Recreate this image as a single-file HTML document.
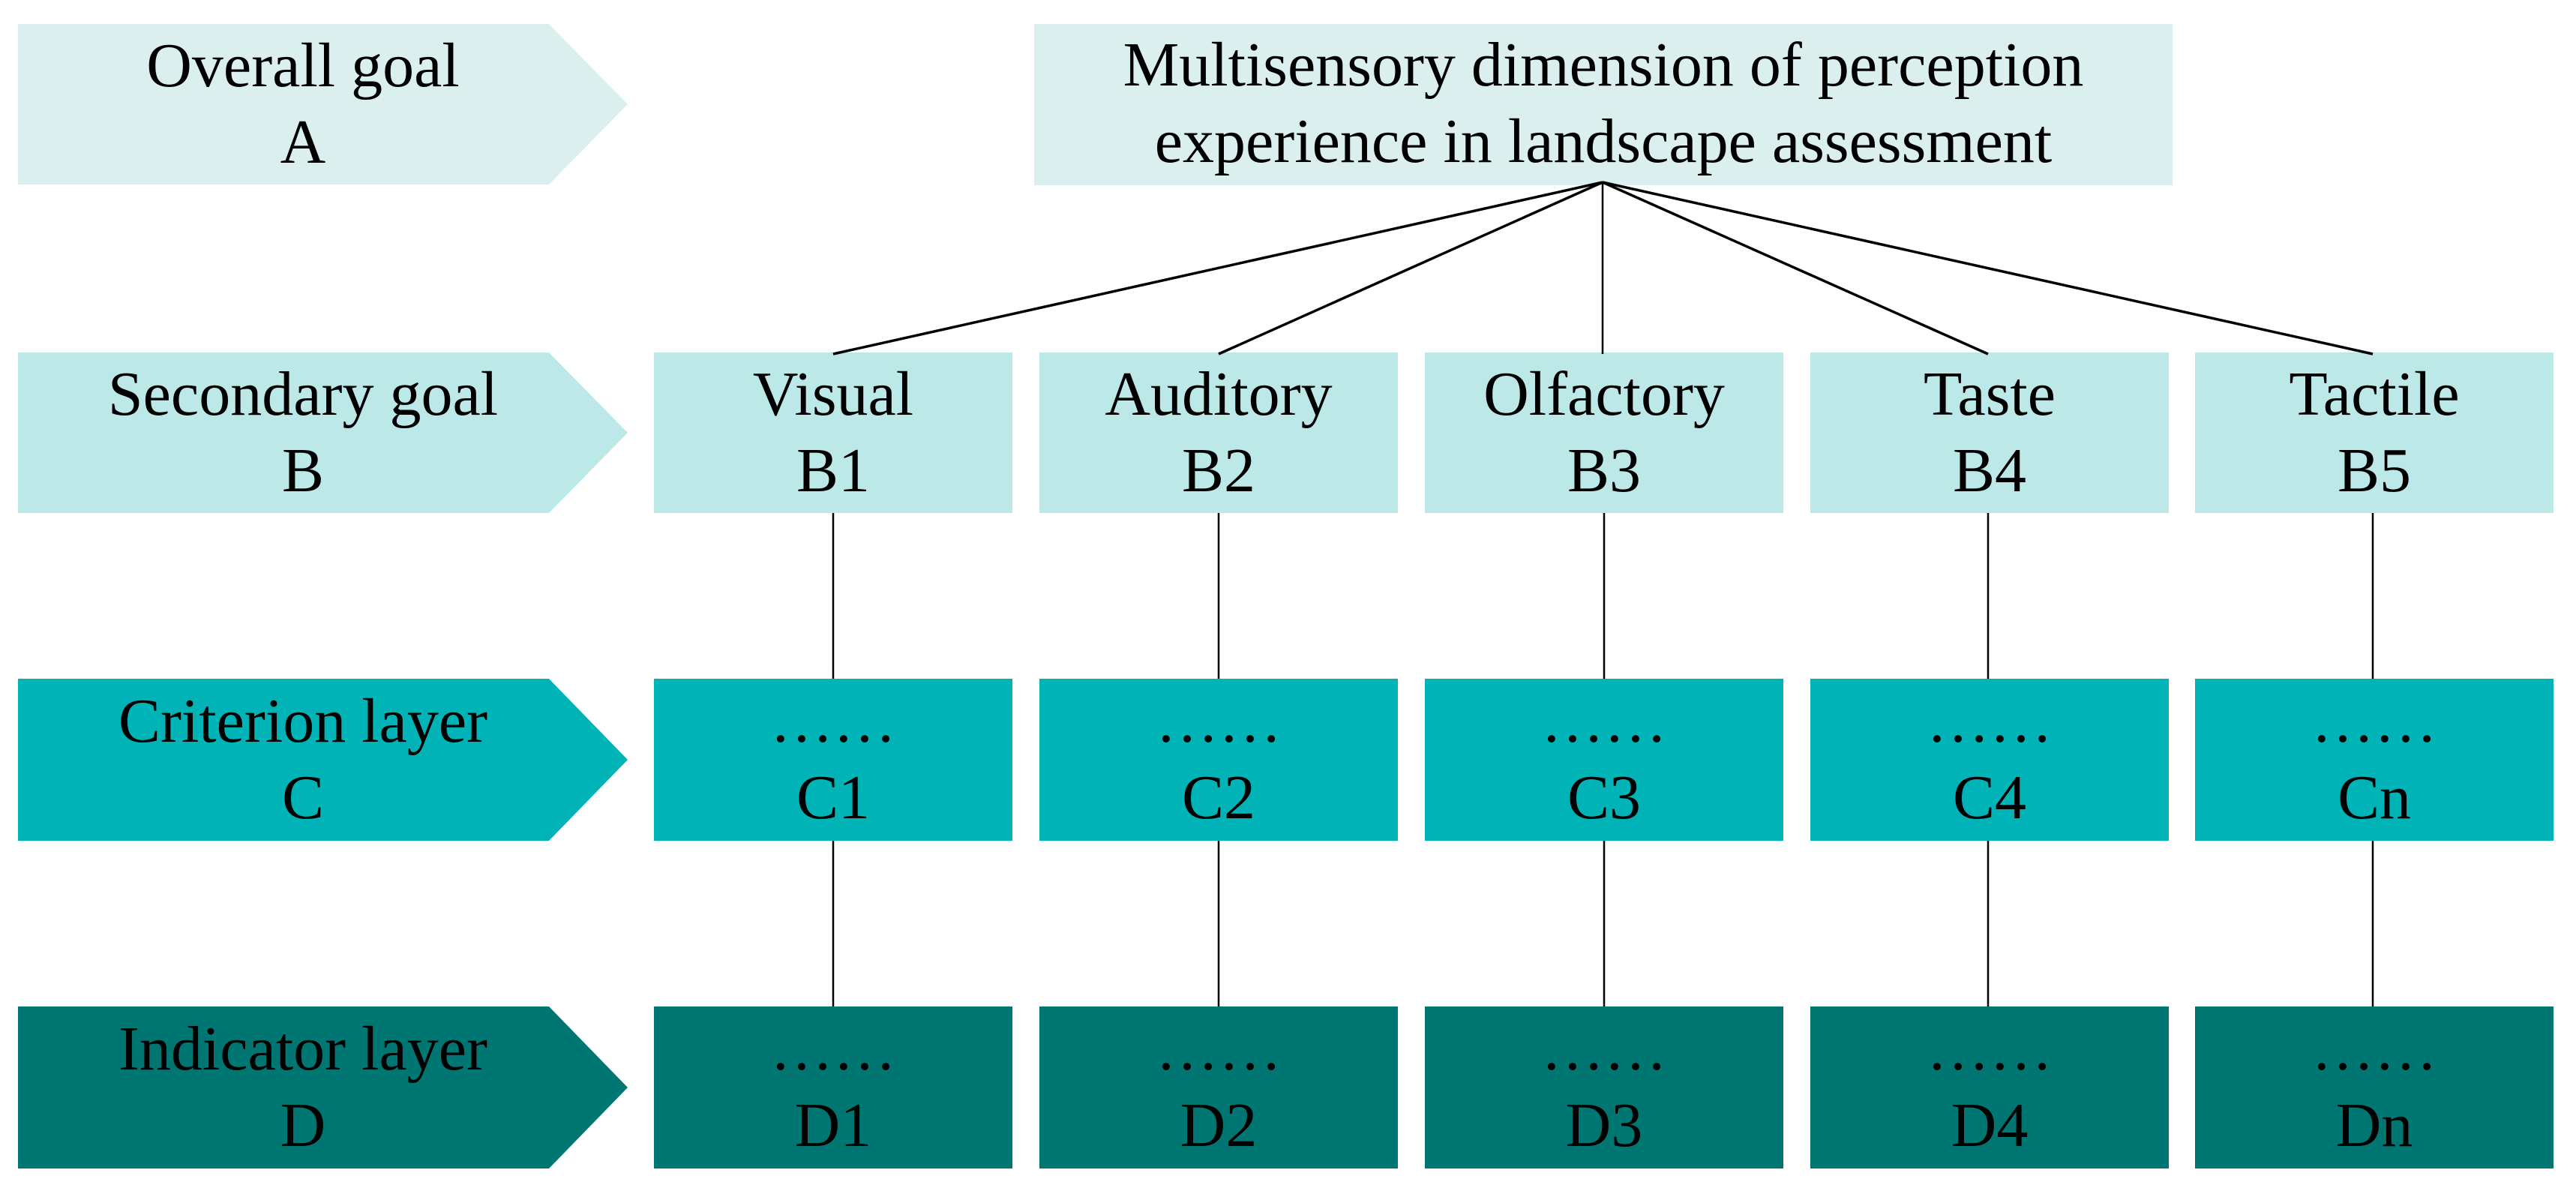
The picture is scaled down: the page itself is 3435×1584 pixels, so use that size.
<!DOCTYPE html>
<html><head><meta charset="utf-8"><style>
html,body{margin:0;padding:0;background:#fff}
body{width:3435px;height:1584px;position:relative;overflow:hidden;font-family:"Liberation Serif",serif;color:#000}
.b{position:absolute;display:flex;flex-direction:column;align-items:center;justify-content:center;font-size:84px;line-height:102px;text-align:center}
svg{position:absolute;left:0;top:0}
</style></head><body>
<svg width="3435" height="1584">
<g>
<polygon points="24,32 732,32 837,139 732,246 24,246" fill="#dbefef"/>
<polygon points="24,470 732,470 837,577 732,684 24,684" fill="#bde8e8"/>
<polygon points="24,905 732,905 837,1013 732,1121 24,1121" fill="#00b3b7"/>
<polygon points="24,1342 732,1342 837,1450 732,1558 24,1558" fill="#007673"/>
<rect x="1379" y="32" width="1518" height="215" fill="#dbefef"/>
</g>
<g fill="#bde8e8">
<rect x="872" y="470" width="478" height="214"/><rect x="1386" y="470" width="478" height="214"/><rect x="1900" y="470" width="478" height="214"/><rect x="2414" y="470" width="478" height="214"/><rect x="2927" y="470" width="478" height="214"/>
</g>
<g fill="#00b3b7">
<rect x="872" y="905" width="478" height="216"/><rect x="1386" y="905" width="478" height="216"/><rect x="1900" y="905" width="478" height="216"/><rect x="2414" y="905" width="478" height="216"/><rect x="2927" y="905" width="478" height="216"/>
</g>
<g fill="#007673">
<rect x="872" y="1342" width="478" height="216"/><rect x="1386" y="1342" width="478" height="216"/><rect x="1900" y="1342" width="478" height="216"/><rect x="2414" y="1342" width="478" height="216"/><rect x="2927" y="1342" width="478" height="216"/>
</g>
<g stroke="#000" stroke-width="3.5" fill="none">
<line x1="2137" y1="243" x2="1111" y2="472"/>
<line x1="2137" y1="243" x2="1625" y2="472"/>
<line x1="2137" y1="243" x2="2137" y2="472" stroke-width="2.5"/>
<line x1="2137" y1="243" x2="2651" y2="472"/>
<line x1="2137" y1="243" x2="3164" y2="472"/>
</g>
<g stroke="#000" stroke-width="2.5">
<line x1="1111" y1="684" x2="1111" y2="905"/><line x1="1625" y1="684" x2="1625" y2="905"/><line x1="2139" y1="684" x2="2139" y2="905"/><line x1="2651" y1="684" x2="2651" y2="905"/><line x1="3164" y1="684" x2="3164" y2="905"/>
<line x1="1111" y1="1121" x2="1111" y2="1342"/><line x1="1625" y1="1121" x2="1625" y2="1342"/><line x1="2139" y1="1121" x2="2139" y2="1342"/><line x1="2651" y1="1121" x2="2651" y2="1342"/><line x1="3164" y1="1121" x2="3164" y2="1342"/>
</g>
</svg>
<div class="b" style="left:104px;top:32px;width:600px;height:214px"><div>Overall goal</div><div>A</div></div>
<div class="b" style="left:104px;top:470px;width:600px;height:214px"><div>Secondary goal</div><div>B</div></div>
<div class="b" style="left:104px;top:905px;width:600px;height:216px"><div>Criterion layer</div><div>C</div></div>
<div class="b" style="left:104px;top:1342px;width:600px;height:216px"><div>Indicator layer</div><div>D</div></div>
<div class="b" style="left:1379px;top:32px;width:1518px;height:212px"><div>Multisensory dimension of perception</div><div>experience in landscape assessment</div></div>

<div class="b" style="left:872px;top:470px;width:478px;height:214px"><div>Visual</div><div>B1</div></div>
<div class="b" style="left:1386px;top:470px;width:478px;height:214px"><div>Auditory</div><div>B2</div></div>
<div class="b" style="left:1900px;top:470px;width:478px;height:214px"><div>Olfactory</div><div>B3</div></div>
<div class="b" style="left:2414px;top:470px;width:478px;height:214px"><div>Taste</div><div>B4</div></div>
<div class="b" style="left:2927px;top:470px;width:478px;height:214px"><div>Tactile</div><div>B5</div></div>

<div class="b" style="left:872px;top:905px;width:478px;height:216px"><div>……</div><div>C1</div></div>
<div class="b" style="left:1386px;top:905px;width:478px;height:216px"><div>……</div><div>C2</div></div>
<div class="b" style="left:1900px;top:905px;width:478px;height:216px"><div>……</div><div>C3</div></div>
<div class="b" style="left:2414px;top:905px;width:478px;height:216px"><div>……</div><div>C4</div></div>
<div class="b" style="left:2927px;top:905px;width:478px;height:216px"><div>……</div><div>Cn</div></div>

<div class="b" style="left:872px;top:1342px;width:478px;height:216px"><div>……</div><div>D1</div></div>
<div class="b" style="left:1386px;top:1342px;width:478px;height:216px"><div>……</div><div>D2</div></div>
<div class="b" style="left:1900px;top:1342px;width:478px;height:216px"><div>……</div><div>D3</div></div>
<div class="b" style="left:2414px;top:1342px;width:478px;height:216px"><div>……</div><div>D4</div></div>
<div class="b" style="left:2927px;top:1342px;width:478px;height:216px"><div>……</div><div>Dn</div></div>
</body></html>
